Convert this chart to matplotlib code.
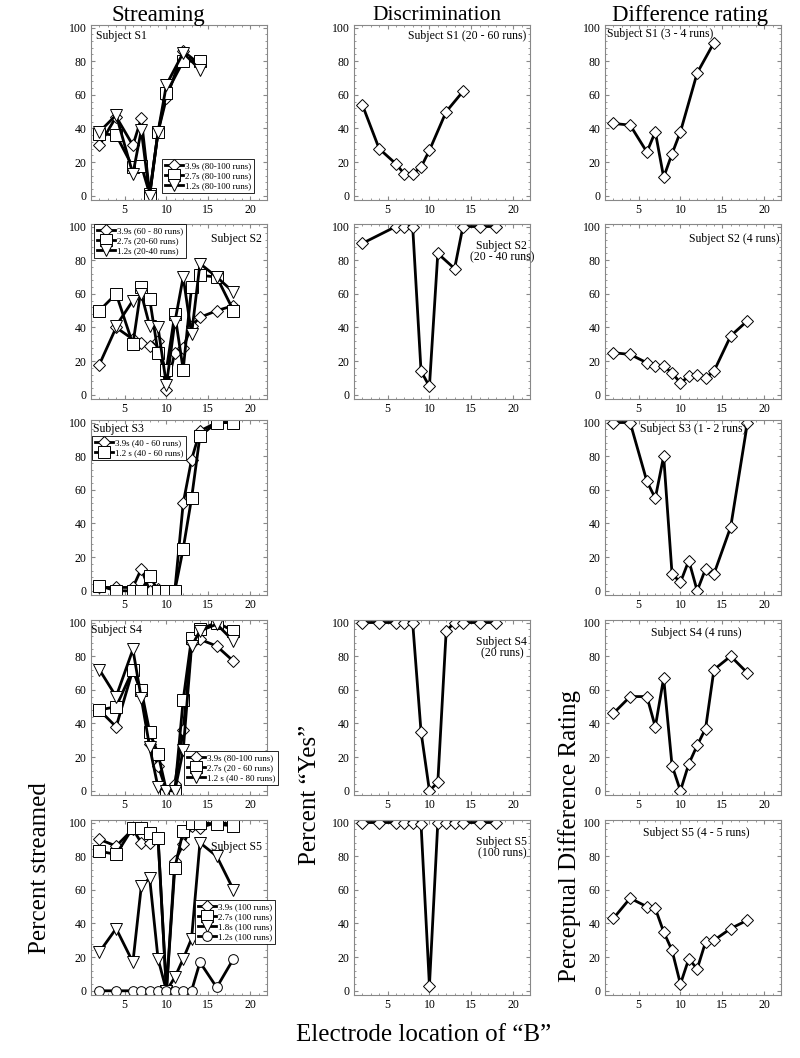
import matplotlib
matplotlib.use("Agg")
import matplotlib.pyplot as plt
from matplotlib.ticker import MultipleLocator

plt.rcParams['font.family'] = ['Liberation Serif', 'DejaVu Serif']

# ---------------- data ----------------
# Streaming
s1_x = [2, 4, 6, 7, 8, 9, 10, 12, 14]
s1_39 = [30, 47, 30, 46, 1, 38, 58, 86, 78]
s1_27 = [37, 36, 17, 18, 1, 38, 61, 80, 80]
s1_12 = [38, 48, 13, 39, 0, 38, 66, 85, 75]

s2_x39 = [2, 4, 6, 7, 8, 9, 10, 11, 12, 13, 14, 16, 18]
s2_39 = [18, 40, 33, 31, 29, 32, 3, 25, 28, 41, 46, 50, 53]
s2_x27 = [2, 4, 6, 7, 8, 9, 10, 11, 12, 13, 14, 16, 18]
s2_27 = [50, 60, 30, 64, 57, 25, 15, 48, 15, 64, 71, 70, 50]
s2_x12 = [4, 6, 7, 8, 9, 10, 11, 12, 13, 14, 16, 18]
s2_12 = [41, 56, 60, 41, 40, 6, 43, 70, 36, 78, 70, 61]

s3_x = [2, 4, 6, 7, 8, 9, 10, 11, 12, 13, 14, 16, 18]
s3_39 = [2, 2, 2, 13, 0, 1, 0, 0, 52, 78, 95, 100, 100]
s3_12 = [3, 0, 0, 0, 9, 0, 0, 0, 25, 55, 92, 100, 100]

s4_x = [2, 4, 6, 7, 8, 9, 10, 11, 12, 13, 14, 16, 18]
s4_39 = [48, 38, 72, 58, 28, 15, 0, 4, 36, 88, 90, 86, 77]
s4_27 = [48, 50, 72, 60, 35, 22, 0, 0, 54, 91, 96, 100, 95]
s4_12 = [72, 56, 84, 55, 26, 2, 0, 0, 24, 86, 95, 99, 89]

s5_x = [2, 4, 6, 7, 8, 9, 10, 11, 12, 13, 14, 16, 18]
s5_39 = [90, 86, 96, 88, 88, 91, 0, 77, 87, 98, 97, 100, 99]
s5_27 = [83, 81, 97, 97, 94, 91, 0, 73, 95, 100, 100, 99, 98]
s5_18 = [23, 37, 17, 62, 67, 19, 0, 8, 19, 31, 88, 80, 60]
s5_12 = [0, 0, 0, 0, 0, 0, 0, 0, 0, 0, 17, 2, 19]

# Discrimination
d1_x = [2, 4, 6, 7, 8, 9, 10, 12, 14]
d1_y = [54, 28, 19, 13, 13, 17, 27, 50, 62]
d2_x = [2, 6, 7, 8, 9, 10, 11, 13, 14, 16, 18]
d2_y = [90, 100, 100, 100, 14, 5, 84, 75, 100, 100, 100]
d4_x = [2, 4, 6, 7, 8, 9, 10, 11, 12, 13, 14, 16, 18]
d4_y = [100, 100, 100, 100, 100, 35, 0, 5, 95, 100, 100, 100, 100]
d5_x = [2, 4, 6, 7, 8, 9, 10, 11, 12, 13, 14, 16, 18]
d5_y = [100, 100, 100, 100, 100, 99, 3, 100, 100, 100, 100, 100, 100]

# Difference rating
r1_x = [2, 4, 6, 7, 8, 9, 10, 12, 14]
r1_y = [43, 42, 26, 38, 11, 25, 38, 73, 91]
r2_x = [2, 4, 6, 7, 8, 9, 10, 11, 12, 13, 14, 16, 18]
r2_y = [25, 24, 19, 17, 17, 13, 7, 11, 12, 10, 14, 35, 44]
r3_x = [2, 4, 6, 7, 8, 9, 10, 11, 12, 13, 14, 16, 18]
r3_y = [100, 100, 65, 55, 80, 10, 5, 18, 0, 13, 10, 38, 100]
r4_x = [2, 4, 6, 7, 8, 9, 10, 11, 12, 13, 14, 16, 18]
r4_y = [46, 56, 56, 38, 67, 15, 0, 16, 27, 37, 72, 80, 70]
r5_x = [2, 4, 6, 7, 8, 9, 10, 11, 12, 13, 14, 16, 18]
r5_y = [43, 55, 50, 49, 35, 24, 4, 19, 13, 29, 30, 37, 42]

# ---------------- layout ----------------
fig = plt.figure(figsize=(8, 10.58), dpi=100)
W, H = 800.0, 1058.0
col_left = [91, 354, 605]
col_w = 176
row_top = [25, 224, 420, 620, 820]
row_h = 175


def make_ax(c, r):
    ax = fig.add_axes([col_left[c] / W, 1 - (row_top[r] + row_h) / H, col_w / W, row_h / H])
    ax.set_xlim(1, 22)
    ax.set_ylim(-2.5, 101.5)
    ax.xaxis.set_major_locator(MultipleLocator(5))
    ax.xaxis.set_minor_locator(MultipleLocator(1))
    ax.yaxis.set_major_locator(MultipleLocator(20))
    ax.yaxis.set_minor_locator(MultipleLocator(4))
    ax.tick_params(which='both', direction='in', top=True, right=True,
                   color='#888888', labelsize=8.5, pad=3)
    ax.tick_params(which='major', length=3)
    ax.tick_params(which='minor', length=1.5)
    for s in ax.spines.values():
        s.set_color('#888888')
        s.set_linewidth(0.8)
    return ax


def plot(ax, x, y, marker, ms=7, label=None):
    ax.plot(x, y, color='black', lw=2.0, marker=marker, ms=ms,
            mfc='white', mec='black', mew=0.7, label=label)


def legend(ax, **kw):
    lg = ax.legend(fontsize=6.5, numpoints=1, handlelength=2.0, handletextpad=0.2,
                   borderpad=0.3, labelspacing=0.2, fancybox=False,
                   edgecolor='black', framealpha=1, borderaxespad=0, **kw)
    lg.get_frame().set_linewidth(0.6)
    lg.set_clip_on(False)
    return lg

tfs = 8.5
# Streaming column
ax = make_ax(0, 0)
plot(ax, s1_x, s1_39, 'D', 6, '3.9s (80-100 runs)')
plot(ax, s1_x, s1_27, 's', 8, '2.7s (80-100 runs)')
plot(ax, s1_x, s1_12, 'v', 8, '1.2s (80-100 runs)')
ax.text(0.03, 0.97, 'Subject S1', transform=ax.transAxes, ha='left', va='top', fontsize=tfs)
legend(ax, loc='lower right', bbox_to_anchor=(0.926, 0.04))

ax = make_ax(0, 1)
plot(ax, s2_x39, s2_39, 'D', 6, '3.9s (60 - 80 runs)')
plot(ax, s2_x27, s2_27, 's', 8, '2.7s (20-60 runs)')
plot(ax, s2_x12, s2_12, 'v', 8, '1.2s (20-40 runs)')
ax.text(0.97, 0.95, 'Subject S2', transform=ax.transAxes, ha='right', va='top', fontsize=tfs)
legend(ax, loc='upper left', bbox_to_anchor=(0.017, 1.0))

ax = make_ax(0, 2)
plot(ax, s3_x, s3_39, 'D', 6, '3.9s (40 - 60 runs)')
plot(ax, s3_x, s3_12, 's', 8, '1.2 s (40 - 60 runs)')
ax.text(0.01, 0.985, 'Subject S3', transform=ax.transAxes, ha='left', va='top', fontsize=tfs)
legend(ax, loc='upper left', bbox_to_anchor=(0.006, 0.909))

ax = make_ax(0, 3)
plot(ax, s4_x, s4_39, 'D', 6, '3.9s (80-100 runs)')
plot(ax, s4_x, s4_27, 's', 8, '2.7s (20 - 60 runs)')
plot(ax, s4_x, s4_12, 'v', 8, '1.2 s (40 - 80 runs)')
ax.text(0.0, 0.975, 'Subject S4', transform=ax.transAxes, ha='left', va='top', fontsize=tfs)
legend(ax, loc='lower right', bbox_to_anchor=(1.0625, 0.057))

ax = make_ax(0, 4)
plot(ax, s5_x, s5_39, 'D', 6, '3.9s (100 runs)')
plot(ax, s5_x, s5_27, 's', 8, '2.7s (100 runs)')
plot(ax, s5_x, s5_18, 'v', 8, '1.8s (100 runs)')
plot(ax, s5_x, s5_12, 'o', 7, '1.2s (100 runs)')
ax.text(0.97, 0.88, 'Subject S5', transform=ax.transAxes, ha='right', va='top', fontsize=tfs)
legend(ax, loc='lower right', bbox_to_anchor=(1.045, 0.29))

# Discrimination column
ax = make_ax(1, 0)
plot(ax, d1_x, d1_y, 'D', 6)
ax.text(0.98, 0.97, 'Subject S1 (20 - 60 runs)', transform=ax.transAxes, ha='right', va='top', fontsize=tfs)
ax = make_ax(1, 1)
plot(ax, d2_x, d2_y, 'D', 6)
ax.text(0.84, 0.91, 'Subject S2\n(20 - 40 runs)', transform=ax.transAxes, ha='center', va='top',
        fontsize=tfs, linespacing=1.0)
ax = make_ax(1, 3)
plot(ax, d4_x, d4_y, 'D', 6)
ax.text(0.84, 0.91, 'Subject S4\n(20 runs)', transform=ax.transAxes, ha='center', va='top',
        fontsize=tfs, linespacing=1.0)
ax = make_ax(1, 4)
plot(ax, d5_x, d5_y, 'D', 6)
ax.text(0.84, 0.91, 'Subject S5\n(100 runs)', transform=ax.transAxes, ha='center', va='top',
        fontsize=tfs, linespacing=1.0)

# Difference rating column
ax = make_ax(2, 0)
plot(ax, r1_x, r1_y, 'D', 6)
ax.text(0.01, 0.985, 'Subject S1 (3 - 4 runs)', transform=ax.transAxes, ha='left', va='top', fontsize=tfs)
ax = make_ax(2, 1)
plot(ax, r2_x, r2_y, 'D', 6)
ax.text(0.99, 0.95, 'Subject S2 (4 runs)', transform=ax.transAxes, ha='right', va='top', fontsize=tfs)
ax = make_ax(2, 2)
plot(ax, r3_x, r3_y, 'D', 6)
ax.text(0.50, 0.985, 'Subject S3 (1 - 2 runs)', transform=ax.transAxes, ha='center', va='top', fontsize=tfs)
ax = make_ax(2, 3)
plot(ax, r4_x, r4_y, 'D', 6)
ax.text(0.52, 0.96, 'Subject S4 (4 runs)', transform=ax.transAxes, ha='center', va='top', fontsize=tfs)
ax = make_ax(2, 4)
plot(ax, r5_x, r5_y, 'D', 6)
ax.text(0.52, 0.96, 'Subject S5 (4 - 5 runs)', transform=ax.transAxes, ha='center', va='top', fontsize=tfs)

# Column titles and axis labels
fig.text(158 / W, 1 - 15 / H, 'Streaming', ha='center', va='center', fontsize=16.5)
fig.text(437 / W, 1 - 15 / H, 'Discrimination', ha='center', va='center', fontsize=15.5)
fig.text(690 / W, 1 - 15 / H, 'Difference rating', ha='center', va='center', fontsize=16.5)
fig.text(424 / W, 1 - 1035 / H, 'Electrode location of \u201cB\u201d', ha='center', va='center', fontsize=18)
fig.text(40 / W, 1 - 868 / H, 'Percent streamed', ha='center', va='center', rotation=90, fontsize=18)
fig.text(310 / W, 1 - 795 / H, 'Percent \u201cYes\u201d', ha='center', va='center', rotation=90, fontsize=18)
fig.text(570 / W, 1 - 836 / H, 'Perceptual Difference Rating', ha='center', va='center', rotation=90, fontsize=18)

fig.savefig('out.png', dpi=100)
